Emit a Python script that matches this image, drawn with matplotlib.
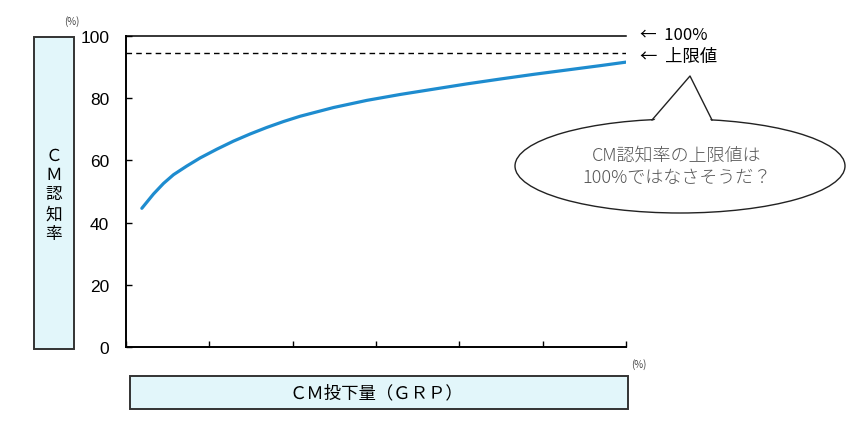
import matplotlib
matplotlib.use('Agg')
import matplotlib.pyplot as plt
import matplotlib.patches as mpatches
import matplotlib.transforms as mtrans
import numpy as np

plt.rcParams['font.family'] = ['Noto Sans CJK JP', 'DejaVu Sans']

# curve (x in tick units, y in %)
grp = [0.19, 0.33, 0.45, 0.57, 0.73, 0.89, 1.09, 1.29, 1.49, 1.69, 1.89, 2.09,
       2.49, 2.89, 3.29, 3.69, 4.09, 4.50, 4.90, 5.30, 5.70, 6.00]
recog = [44.6, 49.2, 52.6, 55.4, 58.2, 60.8, 63.6, 66.2, 68.5, 70.6, 72.5, 74.2,
         77.0, 79.3, 81.2, 82.9, 84.6, 86.2, 87.7, 89.1, 90.5, 91.6]
full_line = 100
upper_limit = 94.4
yticks = [0, 20, 40, 60, 80, 100]
xticks = [0, 1, 2, 3, 4, 5, 6]

ylabel_txt = 'Ｃ\nＭ\n認\n知\n率'
xlabel_txt = 'ＣＭ投下量（ＧＲＰ）'
note_lines = ['CM認知率の上限値は', '100%ではなさそうだ？']

W, H = 854, 427
fig = plt.figure(figsize=(W / 100, H / 100), dpi=100)
# pixel coords, origin top-left
px = mtrans.Affine2D().scale(1 / W, -1 / H).translate(0, 1) + fig.transFigure

ax = fig.add_axes([126 / W, 1 - 348 / H, 500 / W, 311 / H])
ax.plot(grp, recog, color='#1e8ccf', lw=2.3, solid_capstyle='round')
ax.axhline(full_line, color='black', lw=1.1, clip_on=False)
ax.axhline(upper_limit, color='black', lw=1.0, ls=(0, (4, 3)))
ax.set_xlim(0, 6)
ax.set_ylim(0, 100)
ax.set_xticks(xticks)
ax.set_xticklabels([])
ax.set_yticks(yticks)
ax.set_yticklabels([str(v) for v in yticks], family='Liberation Sans', fontsize=12.5)
ax.tick_params(direction='in', length=4, width=1, pad=12, colors='black')
for s in ['top', 'right']:
    ax.spines[s].set_visible(False)
for s in ['left', 'bottom']:
    ax.spines[s].set_linewidth(1.4)

# side label boxes
fig.patches.append(mpatches.Rectangle((34, 38), 40, 312, transform=px,
                                      facecolor='#e2f6fa', edgecolor='#333333', lw=1.4))
fig.text(54 / W, 1 - 195 / H, ylabel_txt, ha='center', va='center', fontsize=12,
         linespacing=1.2)
fig.patches.append(mpatches.Rectangle((130, 377), 498, 33, transform=px,
                                      facecolor='#e2f6fa', edgecolor='#333333', lw=1.4))
fig.text(376 / W, 1 - 393 / H, xlabel_txt, ha='center', va='center', fontsize=12.5)

fig.text(72 / W, 1 - 22 / H, '(%)', ha='center', va='center', fontsize=7, color='#444444')
fig.text(639 / W, 1 - 365 / H, '(%)', ha='center', va='center', fontsize=7, color='#444444')

# right-side annotations
fig.text(640 / W, 1 - 36 / H, '←  100%', ha='left', va='center', fontsize=12)
fig.text(640 / W, 1 - 57 / H, '←  上限値', ha='left', va='center', fontsize=12.5)

# speech bubble
fig.patches.append(mpatches.Ellipse((680, 167), 330, 94, transform=px,
                                    facecolor='white', edgecolor='#222222', lw=1.0))
fig.patches.append(mpatches.Polygon([(652, 124), (690, 77), (712, 124)], closed=True,
                                    transform=px, facecolor='white', edgecolor='none'))
fig.lines.append(plt.Line2D([652, 690, 712], [121, 77, 121], transform=px,
                            color='#222222', lw=1.0))
fig.text(677 / W, 1 - 156 / H, note_lines[0], ha='center', va='center', fontsize=13,
         color='#555555', fontweight='light')
fig.text(677 / W, 1 - 178 / H, note_lines[1], ha='center', va='center', fontsize=13,
         color='#555555', fontweight='light')

fig.savefig('out.png', dpi=100)
